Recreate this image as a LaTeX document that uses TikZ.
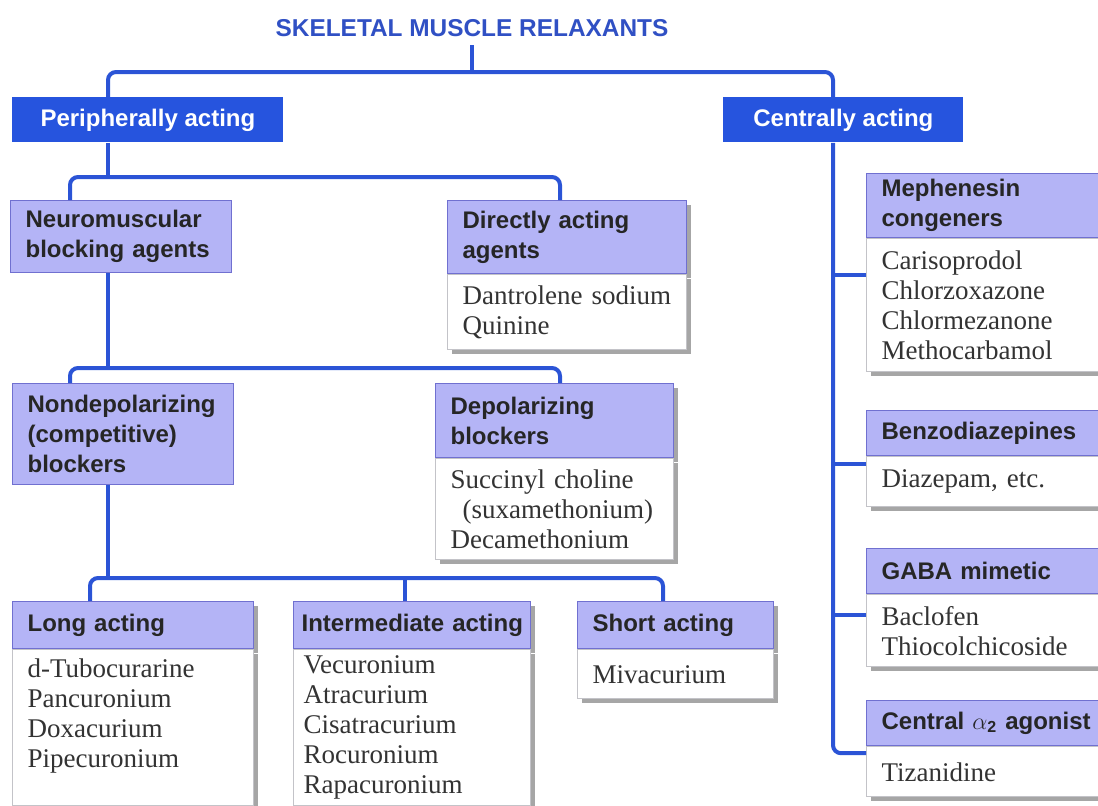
\documentclass[tikz,border=0pt]{standalone}
\usepackage{fontspec}
\setmainfont{Liberation Serif}
\setsansfont{Liberation Sans}
\usetikzlibrary{positioning,shadows,calc}
\definecolor{linkblue}{RGB}{43,84,214}
\definecolor{topblue}{RGB}{38,84,222}
\definecolor{titleblue}{RGB}{48,80,196}
\definecolor{lavender}{RGB}{180,180,246}
\definecolor{headline}{RGB}{112,112,208}
\definecolor{bodyline}{RGB}{195,195,200}
\newcommand{\headfont}{\fontsize{12}{15}\selectfont\sffamily\bfseries}
\newcommand{\bodyfont}{\fontsize{13.5}{15}\selectfont\rmfamily}
\hyphenpenalty=10000

\tikzset{
	link/.style={draw=linkblue, line width=2pt, rounded corners=4pt},
	titletext/.style={font=\fontsize{12.2}{15}\selectfont\sffamily\bfseries, text=titleblue, inner sep=4pt},
	topbox/.style={fill=topblue, text=white, font=\headfont, anchor=north west, minimum height=22.5pt, inner sep=0pt},
	headbox/.style={fill=lavender, draw=headline, line width=0.6pt, font=\headfont, text=black!85, anchor=north west, align=left, inner xsep=7.5pt, inner ysep=0pt},
	bodybox/.style={fill=white, draw=bodyline, line width=0.6pt, font=\bodyfont, text=black!80, anchor=north west, align=left, inner xsep=7.5pt, inner ysep=0pt},
	shade/.style={drop shadow={shadow xshift=2pt, shadow yshift=-2pt, fill=black!35, opacity=1}}
}

\begin{document}
\begin{tikzpicture}[x=0.5pt, y=-0.5pt]
	\useasboundingbox (0,0) rectangle (1098,805);
	\clip (0,0) rectangle (1098,805);
	
	% Title and the two main groups
	\node[titletext] (title) at (472,28) {SKELETAL MUSCLE RELAXANTS};
	\node[topbox, minimum width=135.5pt] (periph) at (12,97) {Peripherally acting};
	\node[topbox, minimum width=120pt] (central) at (723,97) {Centrally acting};
	
	% Peripheral branch
	\node[headbox, text width=95.5pt, minimum height=36pt] (neuro) at (10,200) {Neuromuscular\\blocking agents};
	\node[headbox, shade, text width=104.5pt, minimum height=36.5pt] (dirhead) at (447,200) {Directly acting\\agents};
	\node[bodybox, shade, text width=104.5pt, minimum height=37.5pt] (dirbody) at (dirhead.south west) {Dantrolene sodium\\Quinine};
	
	\node[headbox, text width=95.5pt, minimum height=50.5pt] (nondep) at (12,383) {Nondepolarizing\\(competitive)\\blockers};
	\node[headbox, shade, text width=104pt, minimum height=37pt] (dephead) at (435,383) {Depolarizing\\blockers};
	\node[bodybox, shade, text width=104pt, minimum height=50.5pt] (depbody) at (dephead.south west) {Succinyl choline\\\hspace*{6pt}(suxamethonium)\\Decamethonium};
	
	% Nondepolarizing sub-groups
	\node[headbox, shade, text width=105.5pt, minimum height=23.5pt] (longhead) at (12,601) {Long acting};
	\node[bodybox, shade, text width=105.5pt, minimum height=78pt] (longbody) at (longhead.south west) {d-Tubocurarine\\Pancuronium\\Doxacurium\\Pipecuronium\\\mbox{}};
	\node[headbox, shade, inner xsep=4pt, text width=110.5pt, minimum height=23.5pt] (interhead) at (293,601) {\mbox{Intermediate acting}};
	\node[bodybox, shade, inner xsep=5pt, text width=108.5pt, minimum height=78pt] (interbody) at (interhead.south west) {Vecuronium\\Atracurium\\Cisatracurium\\Rocuronium\\Rapacuronium};
	\node[headbox, shade, text width=83pt, minimum height=23.5pt] (shorthead) at (577,601) {Short acting};
	\node[bodybox, shade, text width=83pt, minimum height=24.5pt] (shortbody) at (shorthead.south west) {Mivacurium};
	
	% Central branch
	\node[headbox, shade, text width=110pt, minimum height=32pt] (mephhead) at (866,173) {Mephenesin\\congeners};
	\node[bodybox, shade, text width=110pt, minimum height=66.5pt] (mephbody) at (mephhead.south west) {Carisoprodol\\Chlorzoxazone\\Chlormezanone\\Methocarbamol};
	\node[headbox, shade, text width=110pt, minimum height=22.5pt] (benzohead) at (866,410) {Benzodiazepines};
	\node[bodybox, shade, text width=110pt, minimum height=25pt] (benzobody) at (benzohead.south west) {Diazepam, etc.};
	\node[headbox, shade, text width=110pt, minimum height=22.5pt] (gabahead) at (866,548) {GABA mimetic};
	\node[bodybox, shade, text width=110pt, minimum height=36pt] (gababody) at (gabahead.south west) {Baclofen\\Thiocolchicoside};
	\node[headbox, shade, text width=110pt, minimum height=22.5pt] (alphahead) at (866,700) {Central $\alpha$\textsubscript{2} agonist};
	\node[bodybox, shade, text width=110pt, minimum height=25pt] (alphabody) at (alphahead.south west) {Tizanidine};
	
	% Connectors
	\coordinate (topbar) at (472,72);
	\draw[link] (title) -- (topbar);
	\draw[link] ([xshift=48pt]periph.north west) |- (topbar) -| ([xshift=55pt]central.north west);
	
	\coordinate (split1) at (108,177);
	\draw[link] ([xshift=48pt]periph.south west) -- (split1);
	\draw[link] ([xshift=30pt]neuro.north west) |- (split1) -| ([xshift=56.5pt]dirhead.north west);
	
	\coordinate (split2) at (108,368);
	\draw[link] ([xshift=49pt]neuro.south west) -- (split2);
	\draw[link] ([xshift=29pt]nondep.north west) |- (split2) -| ([xshift=62.5pt]dephead.north west);
	
	\coordinate (split3) at (108,578);
	\draw[link] ([xshift=48pt]nondep.south west) -- (split3);
	\draw[link] ([xshift=39pt]longhead.north west) |- (split3) -| ([xshift=43pt]shorthead.north west);
	\coordinate (interin) at ([xshift=56pt]interhead.north west);
	\draw[link] (interin) -- (interin |- split3);
	
	\coordinate (spine) at ([xshift=55pt]central.south west);
	\draw[link] (spine) |- ([yshift=-3.5pt]alphabody.north west);
	\foreach \grp/\dy in {mephbody/18.5, benzobody/4, gababody/10.5} {
		\coordinate (branch) at ([yshift=-\dy pt]\grp.north west);
		\draw[link] (branch) -- (branch -| spine);
	}
\end{tikzpicture}
\end{document}
